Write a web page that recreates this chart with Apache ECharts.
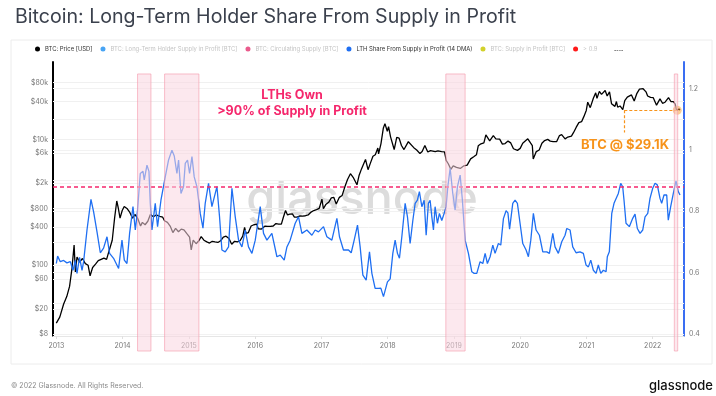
<!DOCTYPE html>
<html>
<head>
<meta charset="utf-8">
<script src="https://cdn.jsdelivr.net/npm/echarts@6/dist/echarts.min.js"></script>
<style>
html,body{margin:0;padding:0;background:#fff;}
#main{width:716px;height:396px;}
</style>
</head>
<body>
<div id="main"></div>
<script>
// 年份刻度
var years = [2013, 2014, 2015, 2016, 2017, 2018, 2019, 2020, 2021, 2022];
// 左轴 (价格, 对数) 刻度
var priceTicks = [8, 20, 60, 100, 400, 800, 2000, 6000, 10000, 40000, 80000];
// 右轴 刻度
var shareTicks = [0.4, 0.6, 0.8, 1, 1.2];
var shareGrid = [0.5, 0.7, 0.9, 1.1];

// BTC 价格
var priceDates = ['2013-01-01','2013-01-20','2013-02-10','2013-02-28','2013-03-15','2013-03-28','2013-04-09','2013-04-16','2013-04-25','2013-05-10',
	'2013-05-25','2013-06-10','2013-06-25','2013-07-06','2013-07-20','2013-08-05','2013-08-20','2013-09-05','2013-09-20','2013-10-05',
	'2013-10-20','2013-11-05','2013-11-18','2013-11-30','2013-12-08','2013-12-18','2013-12-30','2014-01-10','2014-01-25','2014-02-10',
	'2014-02-25','2014-03-10','2014-03-25','2014-04-10','2014-04-20','2014-05-05','2014-05-20','2014-06-03','2014-06-20','2014-07-05',
	'2014-07-25','2014-08-10','2014-08-20','2014-09-05','2014-09-20','2014-10-05','2014-10-20','2014-11-05','2014-11-20','2014-12-05',
	'2014-12-20','2015-01-05','2015-01-14','2015-01-25','2015-02-10','2015-02-25','2015-03-10','2015-03-25','2015-04-10','2015-04-25',
	'2015-05-10','2015-05-25','2015-06-10','2015-06-25','2015-07-10','2015-07-25','2015-08-10','2015-08-25','2015-09-10','2015-09-25',
	'2015-10-10','2015-10-25','2015-11-04','2015-11-12','2015-11-25','2015-12-10','2015-12-25','2016-01-10','2016-01-18','2016-02-05',
	'2016-02-25','2016-03-10','2016-03-25','2016-04-10','2016-04-25','2016-05-10','2016-05-25','2016-06-05','2016-06-17','2016-06-28',
	'2016-07-10','2016-07-25','2016-08-05','2016-08-20','2016-09-05','2016-09-20','2016-10-05','2016-10-20','2016-11-05','2016-11-20',
	'2016-12-05','2016-12-20','2017-01-04','2017-01-12','2017-01-25','2017-02-10','2017-02-25','2017-03-10','2017-03-24','2017-04-10',
	'2017-04-25','2017-05-10','2017-05-25','2017-06-10','2017-06-25','2017-07-05','2017-07-16','2017-07-28','2017-08-10','2017-08-25',
	'2017-09-01','2017-09-15','2017-09-28','2017-10-12','2017-10-25','2017-11-08','2017-11-12','2017-11-25','2017-12-08','2017-12-17',
	'2017-12-30','2018-01-06','2018-01-17','2018-01-28','2018-02-06','2018-02-20','2018-03-05','2018-03-18','2018-04-01','2018-04-06',
	'2018-04-25','2018-05-05','2018-05-25','2018-06-10','2018-06-28','2018-07-10','2018-07-25','2018-08-10','2018-08-25','2018-09-05',
	'2018-09-20','2018-10-05','2018-10-25','2018-11-10','2018-11-20','2018-12-01','2018-12-15','2018-12-28','2019-01-15','2019-02-05',
	'2019-02-25','2019-03-15','2019-04-03','2019-04-20','2019-05-05','2019-05-15','2019-05-30','2019-06-15','2019-06-26','2019-07-05',
	'2019-07-17','2019-08-06','2019-08-20','2019-09-10','2019-09-25','2019-10-10','2019-10-26','2019-11-10','2019-11-25','2019-12-17',
	'2020-01-01','2020-01-15','2020-02-12','2020-02-28','2020-03-08','2020-03-13','2020-03-30','2020-04-15','2020-04-30','2020-05-15',
	'2020-06-01','2020-06-15','2020-07-01','2020-07-20','2020-08-05','2020-08-17','2020-09-05','2020-09-20','2020-10-10','2020-10-22',
	'2020-11-05','2020-11-20','2020-12-05','2020-12-17','2020-12-31','2021-01-08','2021-01-22','2021-02-08','2021-02-21','2021-02-28',
	'2021-03-13','2021-03-25','2021-04-14','2021-04-25','2021-05-08','2021-05-19','2021-06-07','2021-06-15','2021-06-22','2021-07-05',
	'2021-07-20','2021-07-31','2021-08-14','2021-08-25','2021-09-06','2021-09-21','2021-10-06','2021-10-20','2021-11-09','2021-11-25',
	'2021-12-04','2021-12-20','2022-01-04','2022-01-22','2022-02-10','2022-02-24','2022-03-10','2022-03-29','2022-04-11','2022-04-25',
	'2022-05-05','2022-05-12','2022-05-20','2022-05-26','2022-05-31'];
var priceValues = [12,15,24,32,46,88,210,78,135,112,
	128,106,100,68,92,104,118,124,130,124,
	175,250,560,1050,820,560,740,860,800,690,
	560,640,560,420,480,440,500,640,590,630,
	600,580,510,480,420,330,385,340,375,365,
	320,280,175,250,220,245,285,250,235,225,
	240,235,230,245,280,290,265,215,240,235,
	245,290,400,320,330,420,440,450,380,375,
	420,415,415,420,460,450,450,580,740,630,
	650,655,580,580,610,605,612,630,700,740,
	765,800,1120,790,920,1000,1180,1200,940,1200,
	1280,1750,2300,2850,2500,2600,1900,2700,3400,4300,
	4800,3300,4200,5400,5700,7300,5900,8500,15000,17800,
	13500,16000,11000,11300,6900,10800,10500,8000,6900,6500,
	9200,9500,7400,6800,5950,6400,8000,6300,6650,7000,
	6400,6550,6400,6350,4600,4100,3350,3800,3600,3450,
	3800,3900,4900,5300,5700,7900,8500,8800,11800,11000,
	9500,11500,10200,10100,8400,8600,9400,8800,7100,6700,
	7200,8700,10200,8700,8000,4900,6400,6800,8700,9600,
	10000,9400,9200,9200,11500,11900,10200,10900,11300,12900,
	15500,18500,19100,22800,28900,39000,32000,45000,55000,45000,
	58000,52000,60000,49000,57000,37000,33500,40000,32500,34000,
	29800,41500,47000,47500,51000,40700,54000,63000,64000,57000,
	49000,46500,46000,35000,44000,37500,39000,46000,40000,40000,
	36500,28900,29200,30500,29100];

// LTH 占比 (14 DMA), 横轴为小数年份
var lthYears = [2013.000,2013.020,2013.060,2013.110,2013.160,2013.211,2013.252,2013.287,2013.312,2013.351,
	2013.388,2013.412,2013.463,2013.523,2013.563,2013.614,2013.664,2013.713,2013.765,2013.804,
	2013.864,2013.940,2013.991,2014.026,2014.066,2014.106,2014.157,2014.192,2014.226,2014.267,
	2014.308,2014.327,2014.368,2014.398,2014.418,2014.443,2014.493,2014.528,2014.579,2014.644,
	2014.694,2014.745,2014.780,2014.820,2014.845,2014.881,2014.920,2014.946,2014.980,2015.011,
	2015.047,2015.081,2015.122,2015.172,2015.213,2015.247,2015.297,2015.348,2015.424,2015.463,
	2015.499,2015.549,2015.599,2015.650,2015.700,2015.750,2015.801,2015.851,2015.900,2015.952,
	2016.002,2016.077,2016.127,2016.178,2016.253,2016.329,2016.379,2016.439,2016.480,2016.529,
	2016.605,2016.655,2016.706,2016.781,2016.857,2016.906,2016.956,2017.032,2017.083,2017.158,
	2017.234,2017.273,2017.333,2017.409,2017.450,2017.495,2017.545,2017.585,2017.626,2017.676,
	2017.726,2017.762,2017.811,2017.861,2017.897,2017.937,2017.967,2017.997,2018.038,2018.078,
	2018.113,2018.148,2018.178,2018.214,2018.264,2018.299,2018.339,2018.380,2018.415,2018.449,
	2018.479,2018.516,2018.551,2018.581,2018.615,2018.641,2018.667,2018.691,2018.716,2018.751,
	2018.781,2018.817,2018.852,2018.882,2018.908,2018.943,2018.983,2019.018,2019.053,2019.094,
	2019.128,2019.169,2019.219,2019.270,2019.305,2019.345,2019.395,2019.436,2019.471,2019.505,
	2019.546,2019.587,2019.621,2019.671,2019.707,2019.747,2019.787,2019.815,2019.840,2019.888,
	2019.923,2019.958,2019.998,2020.039,2020.089,2020.124,2020.160,2020.199,2020.240,2020.290,
	2020.341,2020.401,2020.441,2020.492,2020.526,2020.576,2020.627,2020.677,2020.703,2020.753,
	2020.793,2020.843,2020.903,2020.953,2020.994,2021.029,2021.065,2021.104,2021.145,2021.179,
	2021.216,2021.255,2021.296,2021.315,2021.345,2021.382,2021.416,2021.446,2021.481,2021.517,
	2021.547,2021.567,2021.597,2021.647,2021.698,2021.733,2021.768,2021.809,2021.849,2021.884,
	2021.925,2021.959,2022.000,2022.035,2022.069,2022.110,2022.135,2022.170,2022.211,2022.235,
	2022.271,2022.311,2022.351,2022.386,2022.412];
var lthValues = [0.630,0.654,0.636,0.640,0.632,0.636,0.608,0.640,0.598,0.650,
	0.608,0.636,0.739,0.839,0.798,0.733,0.665,0.680,0.717,0.663,
	0.647,0.614,0.706,0.641,0.630,0.728,0.815,0.739,0.804,0.923,
	0.930,0.902,0.950,0.930,0.826,0.739,0.826,0.750,0.836,0.912,
	0.967,0.999,0.980,0.923,0.967,0.858,0.880,0.956,0.967,0.923,
	0.978,0.912,0.880,0.793,0.745,0.826,0.891,0.815,0.880,0.782,
	0.674,0.668,0.684,0.875,0.782,0.706,0.684,0.739,0.684,0.663,
	0.706,0.815,0.728,0.706,0.728,0.652,0.657,0.641,0.684,0.706,
	0.761,0.782,0.728,0.739,0.722,0.739,0.733,0.750,0.717,0.706,
	0.777,0.717,0.674,0.674,0.665,0.706,0.755,0.684,0.592,0.576,
	0.668,0.598,0.549,0.549,0.550,0.522,0.520,0.570,0.580,0.663,
	0.706,0.663,0.647,0.717,0.826,0.782,0.695,0.770,0.826,0.836,
	0.864,0.815,0.836,0.722,0.826,0.836,0.782,0.739,0.815,0.761,
	0.793,0.770,0.793,0.815,0.880,0.940,0.858,0.804,0.880,0.918,
	0.836,0.706,0.663,0.603,0.598,0.598,0.636,0.630,0.663,0.630,
	0.652,0.690,0.663,0.695,0.690,0.776,0.802,0.795,0.742,0.826,
	0.836,0.826,0.761,0.695,0.674,0.652,0.706,0.793,0.739,0.722,
	0.668,0.668,0.663,0.728,0.684,0.663,0.701,0.722,0.744,0.739,
	0.684,0.665,0.668,0.663,0.625,0.619,0.641,0.608,0.598,0.625,
	0.598,0.608,0.603,0.652,0.668,0.793,0.826,0.820,0.858,0.891,
	0.880,0.836,0.761,0.750,0.777,0.791,0.744,0.728,0.739,0.782,
	0.793,0.842,0.875,0.891,0.886,0.842,0.826,0.853,0.853,0.771,
	0.815,0.858,0.899,0.864,0.853];

// 高亮区间 (LTH > 0.9)
var bandStarts = [2014.226, 2014.634, 2018.878, 2022.326];
var bandEnds = [2014.428, 2015.152, 2019.169, 2022.377];
var threshold = 0.88;
// BTC @ $29.1K 标注
var markPrice = 29100;
var markFrom = 2021.571;
var markTo = 2022.37;
var markLow = 12900;

/* ---------------------------------------------函数--------------------------------------------- */
function yr(s) {
	var p = s.split('-');
	var y = +p[0];
	var t = Date.UTC(y, +p[1] - 1, +p[2]);
	var a = Date.UTC(y, 0, 1), b = Date.UTC(y + 1, 0, 1);
	return y + (t - a) / (b - a);
}
function priceLabel(v) {
	return v >= 1000 ? '$' + (v / 1000) + 'k' : '$' + v;
}

var priceData = [];
for (var i = 0; i < priceDates.length; i++) {
	priceData.push([yr(priceDates[i]), priceValues[i]]);
}
var lthData = [];
for (i = 0; i < lthYears.length; i++) {
	lthData.push([lthYears[i], lthValues[i]]);
}
var bandData = [];
for (i = 0; i < bandStarts.length; i++) {
	bandData.push([bandStarts[i], bandEnds[i]]);
}

var chart = echarts.init(document.getElementById('main'));
var faded = '#c4c4c4';
var option = {
	animation: false,
	backgroundColor: '#fff',
	textStyle: { fontFamily: 'Inter' },
	title: {
		text: 'Bitcoin: Long-Term Holder Share From Supply in Profit',
		left: 10,
		top: 2,
		textStyle: { fontSize: 19.6, fontWeight: 'normal', color: '#3b414d', fontFamily: 'Inter' }
	},
	legend: {
		left: 35,
		top: 46,
		padding: 0,
		itemGap: 8,
		itemWidth: 5,
		itemHeight: 5,
		icon: 'circle',
		textStyle: { fontSize: 5.9, color: '#333', fontFamily: 'Inter' },
		data: [
			{ name: 'BTC: Price [USD]' },
			{ name: 'BTC: Long-Term Holder Supply in Profit [BTC]', textStyle: { color: faded } },
			{ name: 'BTC: Circulating Supply [BTC]', textStyle: { color: faded } },
			{ name: 'LTH Share From Supply in Profit (14 DMA)' },
			{ name: 'BTC: Supply in Profit [BTC]', textStyle: { color: faded } },
			{ name: '> 0.9', textStyle: { color: faded } }
		]
	},
	grid: { left: 53, right: 32, top: 62, bottom: 60 },
	xAxis: {
		type: 'value',
		min: 2012.95,
		max: 2022.472,
		axisLine: { show: true, lineStyle: { color: '#e6e6e6', width: 1 } },
		axisTick: { show: true, customValues: years, length: 3, lineStyle: { color: '#e0e0e0' } },
		axisLabel: {
			customValues: years,
			fontSize: 7,
			color: '#777',
			margin: 6,
			formatter: function (v) { return String(Math.round(v)); }
		},
		splitLine: { show: false }
	},
	yAxis: [{
		type: 'log',
		logBase: 10,
		min: 7.5,
		max: 170000,
		position: 'left',
		axisLine: { show: true, onZero: false, lineStyle: { color: '#000', width: 2 } },
		axisTick: { show: false },
		axisLabel: { customValues: priceTicks, fontSize: 7, color: '#777', margin: 5, formatter: priceLabel },
		splitLine: { show: false }
	}, {
		type: 'value',
		min: 0.394,
		max: 1.286,
		position: 'right',
		axisLine: { show: true, onZero: false, lineStyle: { color: '#3a6ef2', width: 2 } },
		axisTick: { show: false },
		axisLabel: { customValues: shareTicks, fontSize: 7, color: '#777', margin: 5 },
		splitLine: { show: false }
	}],
	graphic: [
		{ type: 'rect', z: -10, shape: { x: 11, y: 40, width: 701, height: 324 }, style: { fill: 'none', stroke: '#ececec', lineWidth: 1 } },
		{ type: 'text', z: -5, x: 362, y: 200, style: { text: 'glassnode', fontSize: 47, fontFamily: 'Inter', fontWeight: 500, fill: '#dcdcdc', align: 'center', verticalAlign: 'middle' } },
		{ type: 'text', x: 614, y: 50, style: { text: '----', fontSize: 7, fill: '#333', verticalAlign: 'middle' } },
		{ type: 'text', z: 20, x: 292, y: 95, style: { text: 'LTHs Own', fontSize: 12.5, fontWeight: 'bold', fontFamily: 'Inter', fill: '#f5276c', align: 'center', verticalAlign: 'middle' } },
		{ type: 'text', z: 20, x: 292, y: 111, style: { text: '>90% of Supply in Profit', fontSize: 12.5, fontWeight: 'bold', fontFamily: 'Inter', fill: '#f5276c', align: 'center', verticalAlign: 'middle' } },
		{ type: 'text', z: 20, x: 625, y: 145, style: { text: 'BTC @ $29.1K', fontSize: 13, fontWeight: 'bold', fontFamily: 'Inter', fill: '#f7931a', align: 'center', verticalAlign: 'middle' } },
		{ type: 'text', x: 11, y: 386, style: { text: '\u00a9 2022 Glassnode. All Rights Reserved.', fontSize: 7, fill: '#8a8a8a', fontFamily: 'Inter', verticalAlign: 'middle' } },
		{ type: 'text', x: 713, y: 386, style: { text: 'glassnode', fontSize: 13, fontWeight: 500, fill: '#111', fontFamily: 'Inter', align: 'right', verticalAlign: 'middle' } }
	],
	series: [{
		name: 'grid-left',
		type: 'line',
		yAxisIndex: 0,
		data: [],
		z: 1,
		markLine: {
			z: 1,
			silent: true, symbol: 'none', label: { show: false },
			lineStyle: { color: '#f0f0f0', type: 'solid', width: 1 },
			data: priceTicks.map(function (v) { return { yAxis: v }; })
		}
	}, {
		name: 'grid-right',
		type: 'line',
		yAxisIndex: 1,
		data: [],
		z: 1,
		markLine: {
			z: 1,
			silent: true, symbol: 'none', label: { show: false },
			lineStyle: { color: '#f2f2f2', type: 'solid', width: 1 },
			data: shareTicks.concat(shareGrid).map(function (v) { return { yAxis: v }; })
		}
	}, {
		name: 'BTC: Price [USD]',
		type: 'line',
		yAxisIndex: 0,
		data: priceData,
		showSymbol: false,
		symbol: 'none',
		itemStyle: { color: '#000' },
		lineStyle: { color: '#000', width: 1.3 },
		z: 3,
		markLine: {
			silent: true, symbol: 'none', label: { show: false },
			lineStyle: { color: '#f7931a', type: [3, 2], width: 1.2 },
			data: [
				[{ coord: [markFrom, markPrice] }, { coord: [markTo, markPrice] }],
				[{ coord: [markFrom, markPrice] }, { coord: [markFrom, markLow] }]
			]
		},
		markPoint: {
			silent: true,
			symbol: 'circle',
			symbolSize: 9,
			label: { show: false },
			itemStyle: { color: 'rgba(247,147,26,0.45)' },
			data: [{ coord: [markTo, markPrice] }]
		}
	}, {
		name: 'BTC: Long-Term Holder Supply in Profit [BTC]',
		type: 'line', data: [],
		itemStyle: { color: '#48a4f4' }, lineStyle: { color: '#48a4f4' }
	}, {
		name: 'BTC: Circulating Supply [BTC]',
		type: 'line', data: [],
		itemStyle: { color: '#ea5b8c' }, lineStyle: { color: '#ea5b8c' }
	}, {
		name: 'LTH Share From Supply in Profit (14 DMA)',
		type: 'line',
		yAxisIndex: 1,
		data: lthData,
		showSymbol: false,
		symbol: 'none',
		itemStyle: { color: '#1f6ff2' },
		lineStyle: { color: '#1f6ff2', width: 1.3 },
		z: 3
	}, {
		name: 'BTC: Supply in Profit [BTC]',
		type: 'line', data: [],
		itemStyle: { color: '#d2d12b' }, lineStyle: { color: '#d2d12b' }
	}, {
		name: '> 0.9',
		type: 'line',
		yAxisIndex: 1,
		data: [],
		itemStyle: { color: '#ff1a1a' }, lineStyle: { color: '#ff1a1a' },
		markLine: {
			silent: true, symbol: 'none', label: { show: false },
			lineStyle: { color: '#f5276c', type: [4, 3], width: 1.5 },
			data: [{ yAxis: threshold }]
		}
	}, {
		name: 'bands',
		type: 'custom',
		yAxisIndex: 1,
		z: 10,
		clip: false,
		silent: true,
		encode: { x: [0, 1] },
		data: bandData,
		renderItem: function (params, api) {
			var s = api.coord([api.value(0), 1.247]);
			var e = api.coord([api.value(1), 1.247]);
			var cs = params.coordSys;
			return {
				type: 'rect',
				shape: { x: s[0], y: s[1], width: e[0] - s[0], height: cs.y + cs.height + 15 - s[1] },
				style: { fill: 'rgba(250,214,224,0.55)', stroke: 'rgba(244,150,168,0.6)', lineWidth: 1 }
			};
		}
	}]
};
chart.setOption(option);
</script>
</body>
</html>
